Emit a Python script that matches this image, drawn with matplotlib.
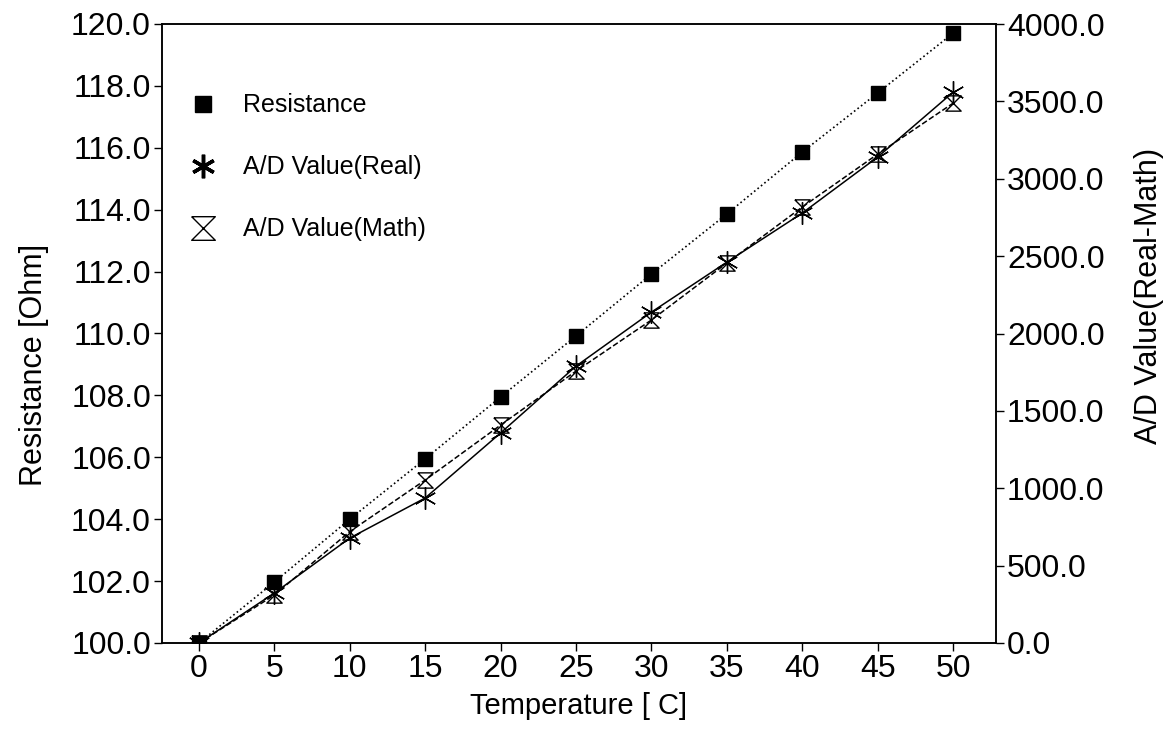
import matplotlib.pyplot as plt
from matplotlib.path import Path
from matplotlib.lines import Line2D

plt.rcParams['font.family'] = ['Liberation Sans', 'DejaVu Sans']

temperature = [0, 5, 10, 15, 20, 25, 30, 35, 40, 45, 50]
resistance = [100.0, 101.97, 104.0, 105.95, 107.95, 109.92, 111.92, 113.86, 115.86, 117.77, 119.7]
ad_real = [0, 323, 678, 937, 1357, 1789, 2138, 2461, 2778, 3140, 3559]
ad_math = [0, 310, 720, 1053, 1408, 1757, 2087, 2455, 2817, 3159, 3488]

x_ticks = [0, 5, 10, 15, 20, 25, 30, 35, 40, 45, 50]
left_ticks = [100, 102, 104, 106, 108, 110, 112, 114, 116, 118, 120]
right_ticks = [0, 500, 1000, 1500, 2000, 2500, 3000, 3500, 4000]

# hourglass marker: top edge, crossing diagonals, bottom edge
hourglass = Path([(-1, 1), (1, 1), (-1, -1), (1, -1), (-1, 1)],
                 [Path.MOVETO, Path.LINETO, Path.LINETO, Path.LINETO, Path.LINETO])

fig = plt.figure(figsize=(11.66, 7.3), dpi=100)
ax = fig.add_axes([162 / 1166, 1 - 643 / 730, (996 - 162) / 1166, (643 - 24) / 730])
ax2 = ax.twinx()

ax.plot(temperature, resistance, color='black', linestyle=':', linewidth=1.2,
        marker='s', markersize=10, zorder=3)
ax2.plot(temperature, ad_real, color='black', linestyle='-', linewidth=1.1,
         marker=(6, 2, 0), markersize=16, markeredgewidth=1.0)
ax2.plot(temperature, ad_math, color='black', linestyle='--', linewidth=1.1,
         marker=hourglass, markersize=11, markerfacecolor='none', markeredgewidth=1.0)

ax.set_xlim(-2.45, 52.85)
ax.set_ylim(100, 120)
ax2.set_ylim(0, 4000)

ax.set_xticks(x_ticks)
ax.set_yticks(left_ticks)
ax.set_yticklabels([f'{v:.1f}' for v in left_ticks])
ax2.set_yticks(right_ticks)
ax2.set_yticklabels([f'{v:.1f}' for v in right_ticks])

for a in (ax, ax2):
    a.tick_params(direction='out', length=6, width=1, labelsize=23, pad=2)
    for s in a.spines.values():
        s.set_linewidth(1.1)

ax.set_xlabel('Temperature [ C]', fontsize=21, labelpad=6)
ax.set_ylabel('Resistance [Ohm]', fontsize=22)
ax.yaxis.set_label_coords(-0.135, 0.45)
ax2.set_ylabel('A/D Value(Real-Math)', fontsize=22)
ax2.yaxis.set_label_coords(1.165, 0.56)

handles = [
    Line2D([], [], color='black', linestyle='none', marker='s', markersize=12),
    Line2D([], [], color='black', linestyle='none', marker=(6, 2, 0), markersize=17, markeredgewidth=2.5),
    Line2D([], [], color='black', linestyle='none', marker=hourglass, markersize=17,
           markerfacecolor='none', markeredgewidth=1.0),
]
labels = ['Resistance', 'A/D Value(Real)', 'A/D Value(Math)']
ax2.legend(handles, labels, loc='upper left', bbox_to_anchor=(0.031, 0.888),
           frameon=False, fontsize=18, labelspacing=1.52, handlelength=1.2,
           handletextpad=1.0, borderaxespad=0, borderpad=0)

fig.savefig('out.png', dpi=100)
